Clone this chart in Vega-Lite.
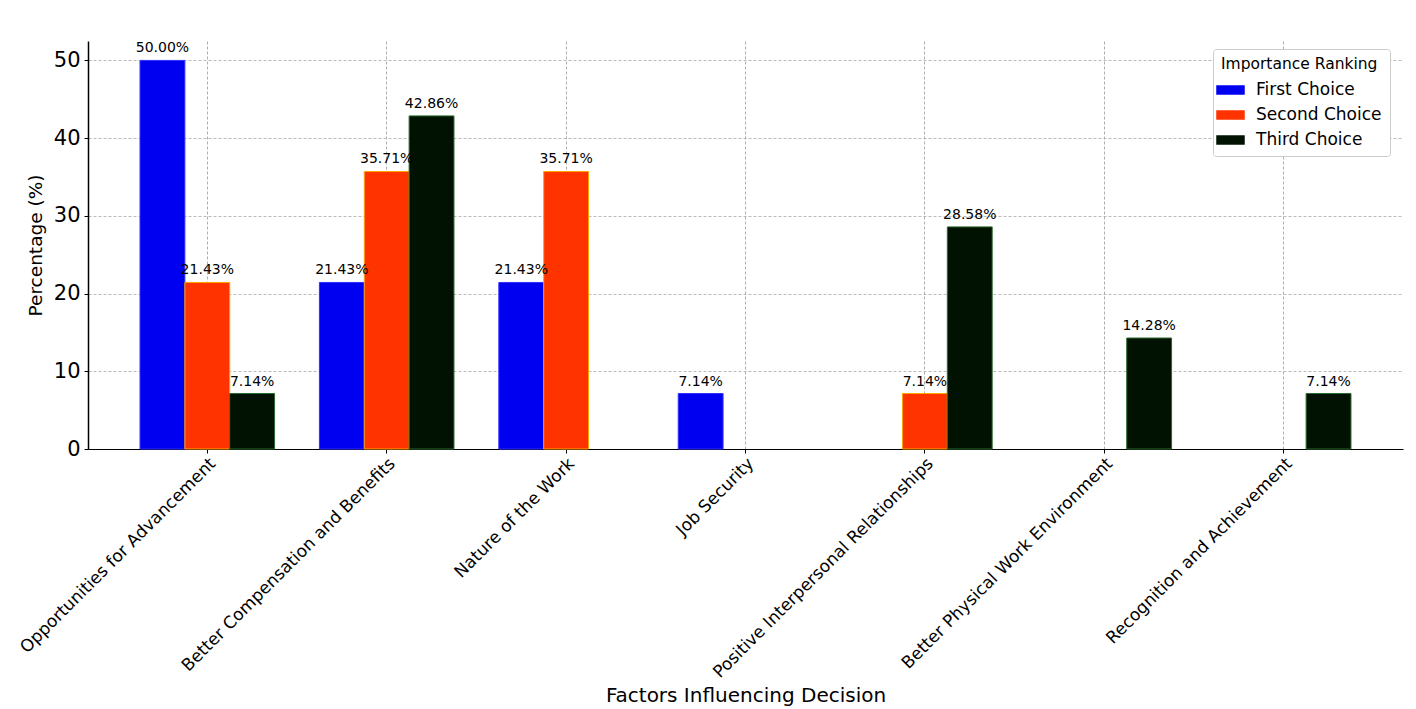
{
  "$schema": "https://vega.github.io/schema/vega-lite/v6.json",
  "width": 1315,
  "height": 408,
  "autosize": {"type": "none"},
  "padding": {"left": 88, "top": 41, "right": 13, "bottom": 260},
  "background": "white",
  "config": {
    "font": "DejaVu Sans",
    "view": {"stroke": null},
    "axis": {"labelFont": "DejaVu Sans", "titleFont": "DejaVu Sans", "titleFontWeight": "normal"}
  },
  "data": {
    "values": [
      {"factor": "Opportunities for Advancement", "choice": "First Choice", "pct": 50.00, "label": "50.00%"},
      {"factor": "Opportunities for Advancement", "choice": "Second Choice", "pct": 21.43, "label": "21.43%"},
      {"factor": "Opportunities for Advancement", "choice": "Third Choice", "pct": 7.14, "label": "7.14%"},
      {"factor": "Better Compensation and Benefits", "choice": "First Choice", "pct": 21.43, "label": "21.43%"},
      {"factor": "Better Compensation and Benefits", "choice": "Second Choice", "pct": 35.71, "label": "35.71%"},
      {"factor": "Better Compensation and Benefits", "choice": "Third Choice", "pct": 42.86, "label": "42.86%"},
      {"factor": "Nature of the Work", "choice": "First Choice", "pct": 21.43, "label": "21.43%"},
      {"factor": "Nature of the Work", "choice": "Second Choice", "pct": 35.71, "label": "35.71%"},
      {"factor": "Job Security", "choice": "First Choice", "pct": 7.14, "label": "7.14%"},
      {"factor": "Positive Interpersonal Relationships", "choice": "Second Choice", "pct": 7.14, "label": "7.14%"},
      {"factor": "Positive Interpersonal Relationships", "choice": "Third Choice", "pct": 28.58, "label": "28.58%"},
      {"factor": "Better Physical Work Environment", "choice": "Third Choice", "pct": 14.28, "label": "14.28%"},
      {"factor": "Recognition and Achievement", "choice": "Third Choice", "pct": 7.14, "label": "7.14%"}
    ]
  },
  "encoding": {
    "x": {
      "field": "factor",
      "type": "nominal",
      "sort": ["Opportunities for Advancement", "Better Compensation and Benefits", "Nature of the Work", "Job Security", "Positive Interpersonal Relationships", "Better Physical Work Environment", "Recognition and Achievement"],
      "scale": {
        "domain": ["Opportunities for Advancement", "Better Compensation and Benefits", "Nature of the Work", "Job Security", "Positive Interpersonal Relationships", "Better Physical Work Environment", "Recognition and Achievement"],
        "paddingInner": 0.25,
        "paddingOuter": 0.29
      },
      "axis": {
        "title": "Factors Influencing Decision",
        "titleFontSize": 20,
        "titleColor": "#000",
        "titlePadding": 36,
        "labelAngle": -45,
        "labelAlign": "right",
        "labelBaseline": "top",
        "labelFontSize": 17,
        "labelLimit": 0,
        "labelColor": "#000",
        "labelPadding": 2,
        "labelDx": -6,
        "labelDy": -8,
        "bandPosition": 0.5,
        "grid": true,
        "gridColor": "#999999",
        "gridDash": [3, 2],
        "gridWidth": 0.8,
        "domainColor": "#000",
        "domainWidth": 1.2,
        "tickColor": "#000",
        "tickSize": 4
      }
    },
    "xOffset": {
      "field": "choice",
      "type": "nominal",
      "scale": {"domain": ["First Choice", "Second Choice", "Third Choice"], "paddingInner": 0, "paddingOuter": 0}
    },
    "y": {
      "field": "pct",
      "type": "quantitative",
      "scale": {"domain": [0, 52.5], "nice": false},
      "axis": {
        "title": "Percentage (%)",
        "titleFontSize": 18.5,
        "titleColor": "#000",
        "titlePadding": 8,
        "values": [0, 10, 20, 30, 40, 50],
        "labelFontSize": 21,
        "labelColor": "#000",
        "labelPadding": 4,
        "grid": true,
        "gridColor": "#aaaaaa",
        "gridDash": [3, 2],
        "gridWidth": 0.8,
        "domainColor": "#000",
        "domainWidth": 1.5,
        "tickColor": "#000",
        "tickSize": 4
      }
    }
  },
  "layer": [
    {
      "mark": {"type": "bar", "strokeWidth": 1},
      "encoding": {
        "color": {
          "field": "choice",
          "type": "nominal",
          "scale": {"domain": ["First Choice", "Second Choice", "Third Choice"], "range": ["#0000f0", "#ff3300", "#021202"]},
          "legend": {
            "title": "Importance Ranking",
            "orient": "none",
            "legendX": 1125,
            "legendY": 8,
            "titleFontSize": 15.5,
            "titleFontWeight": "normal",
            "titleColor": "#000",
            "titlePadding": 8,
            "labelFontSize": 17,
            "labelColor": "#000",
            "labelOffset": 16,
            "symbolType": "M-1.5,-0.5H1.5V0.5H-1.5Z",
            "symbolSize": 361,
            "symbolStrokeWidth": 0,
            "symbolOpacity": 1,
            "rowPadding": 7,
            "fillColor": "white",
            "strokeColor": "#cccccc",
            "cornerRadius": 3,
            "padding": 8
          }
        },
        "stroke": {
          "field": "choice",
          "type": "nominal",
          "scale": {"domain": ["First Choice", "Second Choice", "Third Choice"], "range": ["#3030ff", "#ffa500", "#2a6a2a"]},
          "legend": null
        }
      }
    },
    {
      "mark": {"type": "text", "baseline": "bottom", "dy": -5, "fontSize": 14, "color": "#000"},
      "encoding": {"text": {"field": "label"}}
    }
  ]
}
